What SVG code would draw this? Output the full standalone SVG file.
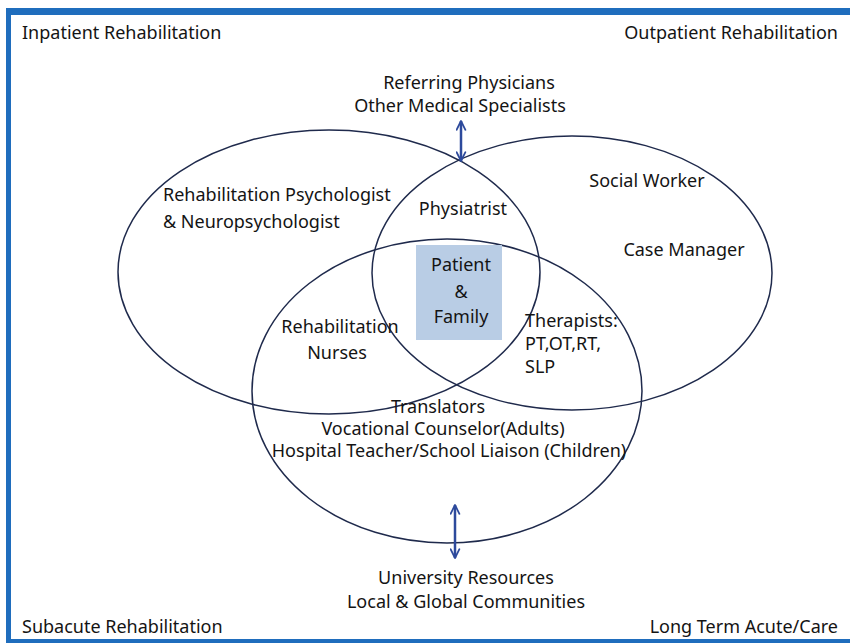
<svg xmlns="http://www.w3.org/2000/svg" width="850" height="643" viewBox="0 0 850 643">
  <defs>
    <style>
      text { font-family: "Noto Sans", "Open Sans", "DejaVu Sans", sans-serif; font-size: 18px; fill: #141414; }
      .mid { text-anchor: middle; }
      .end { text-anchor: end; }
      .ring { fill: none; stroke: #1f2a4c; stroke-width: 1.5; }
      .link { stroke: #2d4a9c; stroke-width: 2.5; fill: none; }
      .frame { fill: #1f6dbd; }
    </style>
    <marker id="tip" viewBox="0 0 10 10" refX="9" refY="5" markerWidth="4.4" markerHeight="4.4" orient="auto-start-reverse" markerUnits="strokeWidth">
      <path d="M1,1 L9,5 L1,9" fill="none" stroke="#2d4a9c" stroke-width="1.6" stroke-linecap="round" stroke-linejoin="round"/>
    </marker>
  </defs>

  <rect width="850" height="643" fill="#ffffff"/>

  <!-- frame -->
  <g id="frame">
    <rect class="frame" x="6" y="8" width="844" height="7"/>
    <rect class="frame" x="6" y="8" width="5" height="635"/>
    <rect class="frame" x="6" y="639" width="844" height="4"/>
  </g>

  <!-- settings in the corners -->
  <g id="settings">
    <text x="22" y="39">Inpatient Rehabilitation</text>
    <text class="end" x="838" y="39">Outpatient Rehabilitation</text>
    <text x="22" y="633">Subacute Rehabilitation</text>
    <text class="end" x="838" y="633">Long Term Acute/Care</text>
  </g>

  <!-- team circles -->
  <g id="circle-left"><ellipse class="ring" cx="329" cy="272" rx="211" ry="142"/></g>
  <g id="circle-right"><ellipse class="ring" cx="572" cy="273" rx="200" ry="137"/></g>
  <g id="circle-bottom"><ellipse class="ring" cx="447" cy="391" rx="195" ry="152"/></g>

  <g id="connectors">
    <line class="link" x1="461" y1="121" x2="461" y2="161" marker-start="url(#tip)" marker-end="url(#tip)"/>
    <line class="link" x1="455" y1="505" x2="455" y2="558" marker-start="url(#tip)" marker-end="url(#tip)"/>
  </g>

  <g id="referring">
    <text class="mid" x="469" y="89">Referring Physicians</text>
    <text class="mid" x="460" y="112">Other Medical Specialists</text>
  </g>

  <g id="psychologist">
    <text x="163" y="201">Rehabilitation Psychologist</text>
    <text x="163" y="228">&amp; Neuropsychologist</text>
  </g>

  <g id="physiatrist">
    <text class="mid" x="463" y="215">Physiatrist</text>
  </g>

  <g id="social-worker">
    <text class="mid" x="647" y="187">Social Worker</text>
  </g>

  <g id="case-manager">
    <text class="mid" x="684" y="256">Case Manager</text>
  </g>

  <g id="patient-family">
    <rect x="416" y="245" width="86" height="95" fill="#b9cde5"/>
    <text class="mid" x="461" y="271">Patient</text>
    <text class="mid" x="461" y="298">&amp;</text>
    <text class="mid" x="461" y="323">Family</text>
  </g>

  <g id="nurses">
    <text class="mid" x="340" y="333">Rehabilitation</text>
    <text class="mid" x="337" y="359">Nurses</text>
  </g>

  <g id="therapists">
    <text x="525" y="327">Therapists:</text>
    <text x="525" y="350">PT,OT,RT,</text>
    <text x="525" y="373">SLP</text>
  </g>

  <g id="support-staff">
    <text class="mid" x="438" y="413">Translators</text>
    <text class="mid" x="443" y="435">Vocational Counselor(Adults)</text>
    <text class="mid" x="449" y="457">Hospital Teacher/School Liaison (Children)</text>
  </g>

  <g id="community">
    <text class="mid" x="466" y="584">University Resources</text>
    <text class="mid" x="466" y="608">Local &amp; Global Communities</text>
  </g>
</svg>
